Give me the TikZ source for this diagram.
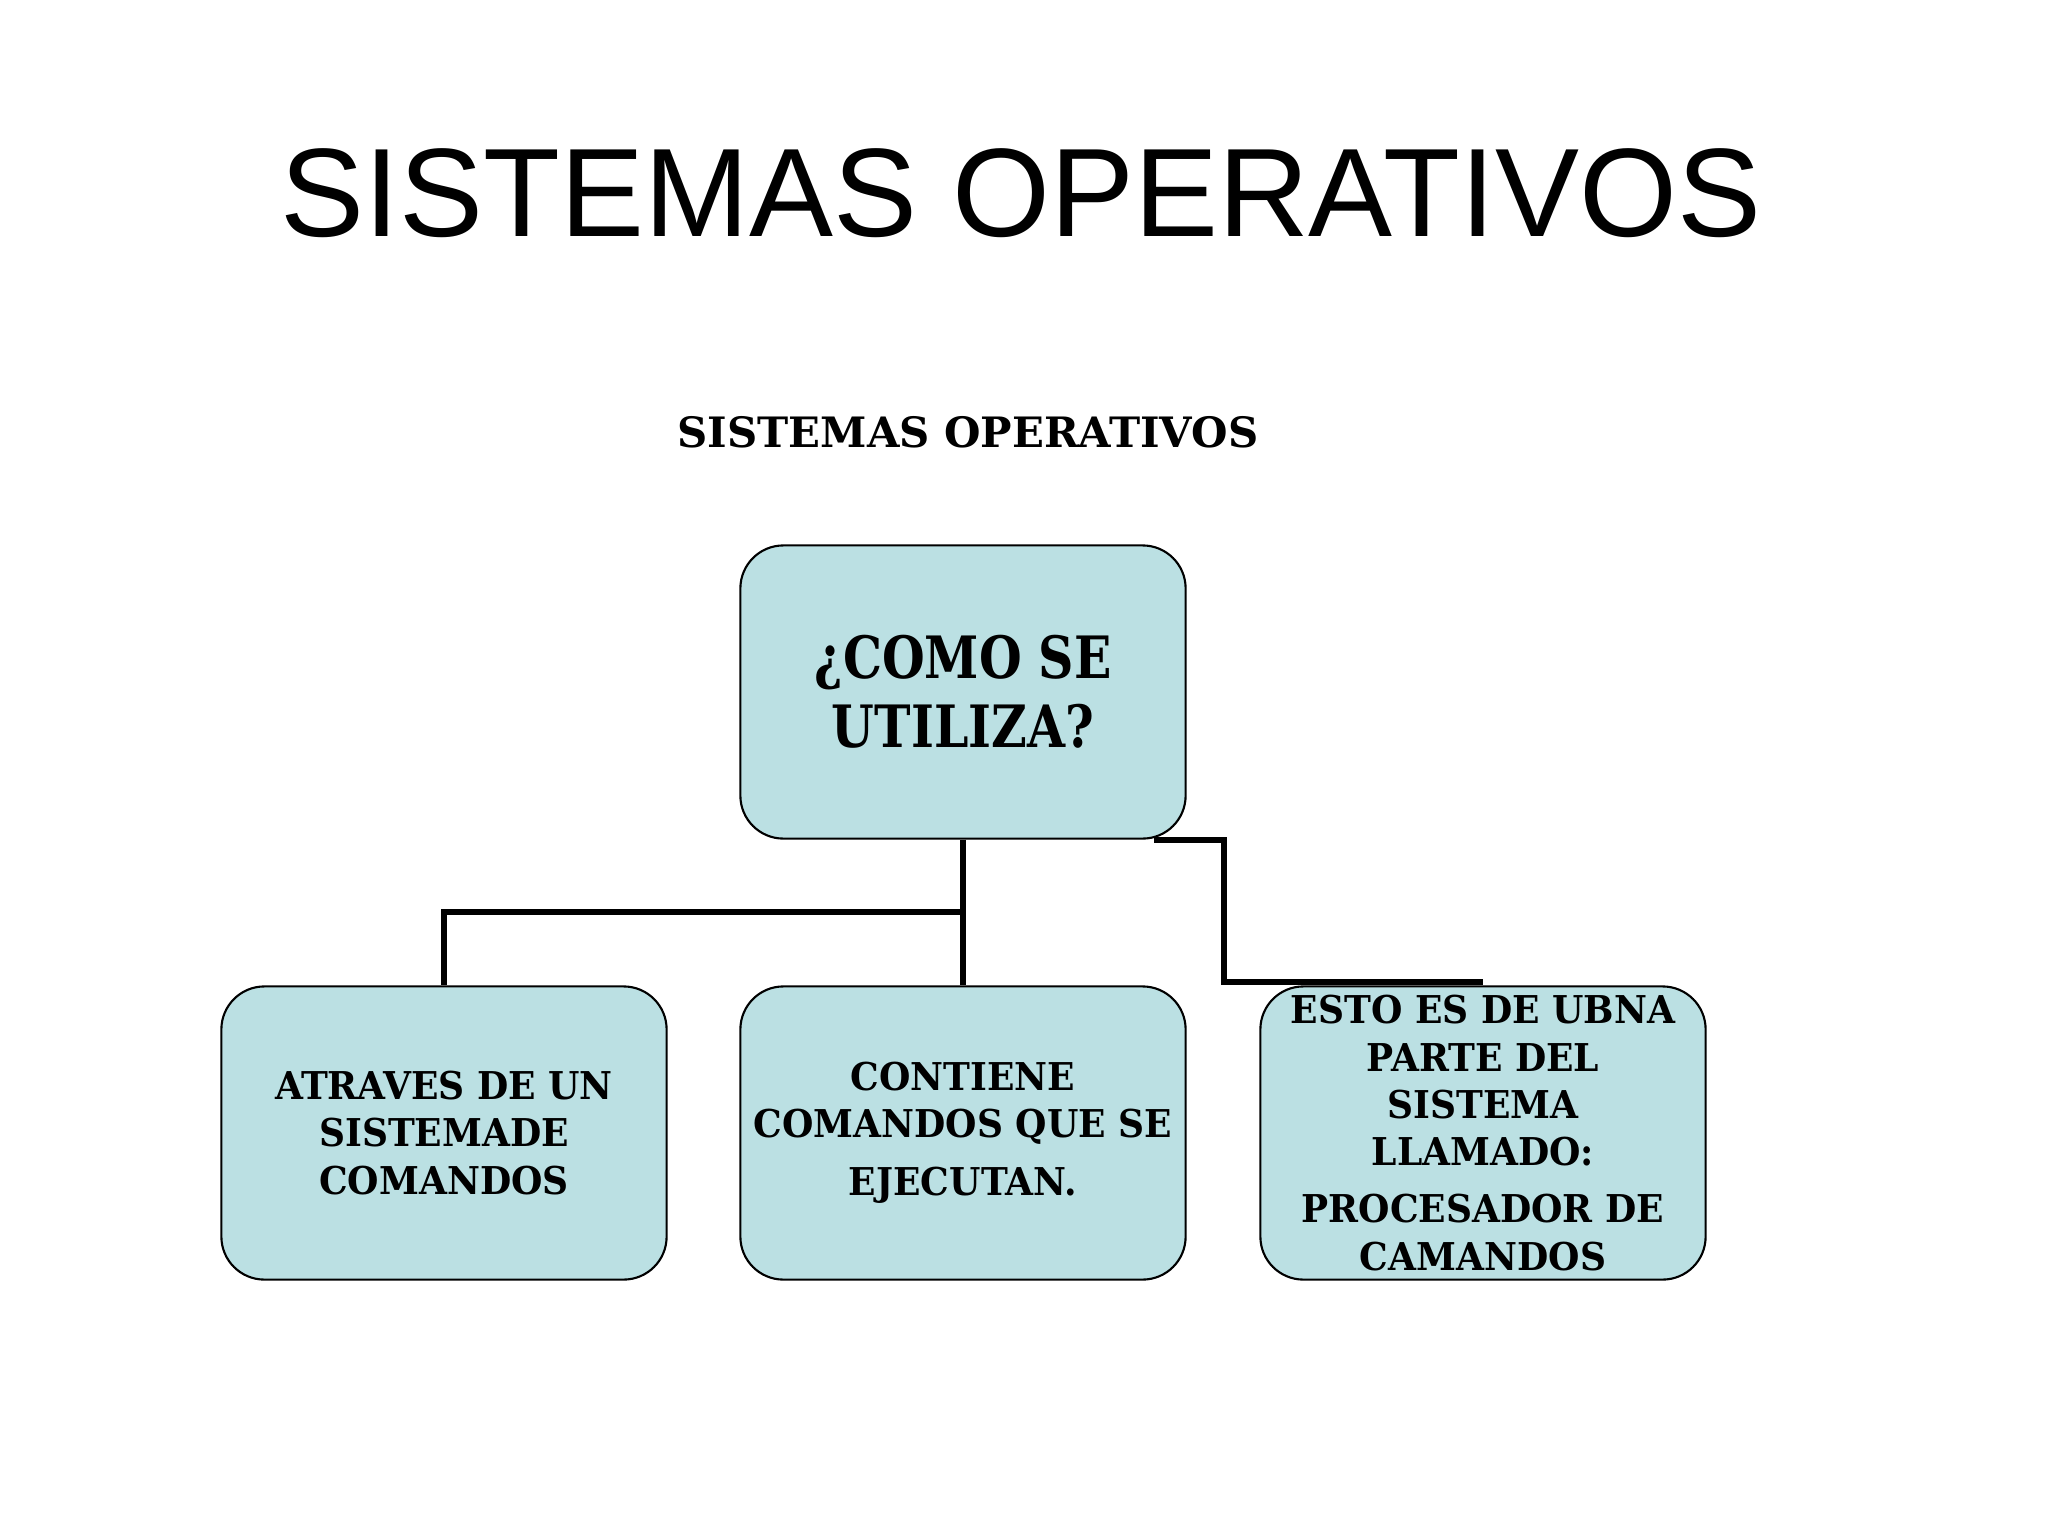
\documentclass[tikz,border=0pt]{standalone}
\usepackage{fontspec}
\setmainfont{DejaVu Serif}
\newfontfamily\titlefont{Liberation Sans}
\newfontfamily\narrowfont[FakeStretch=0.84]{DejaVu Serif}
\newfontfamily\boxfont[FakeStretch=0.94]{DejaVu Serif}
\definecolor{boxfill}{RGB}{187,224,227}

\begin{document}
\begin{tikzpicture}[
  x=0.01cm, y=-0.01cm,
  box/.style={draw, fill=boxfill, line width=0.6pt, rounded corners=0.43cm,
    minimum width=4.45cm, minimum height=2.93cm, align=center, inner sep=0pt},
  small/.style={font=\boxfont\bfseries\fontsize{10.9}{13.4}\selectfont},
  link/.style={line width=0.06cm}
]
  \useasboundingbox[fill=white] (0,0) rectangle (2048,1536);

  % Titles
  \node (title) at (1021,193) {\titlefont\fontsize{35.8}{40}\selectfont SISTEMAS OPERATIVOS};
  \node (subtitle) at (968,432) {\bfseries\fontsize{11.9}{14}\selectfont SISTEMAS OPERATIVOS};

  % Boxes
  \node[box, font=\narrowfont\bfseries\fontsize{16.6}{19.6}\selectfont] (top) at (963,692) {¿COMO SE\\UTILIZA?};
  \node[box, small] (left) at (444,1133) {ATRAVES DE UN\\SISTEMADE\\COMANDOS};
  \node[box, small] (mid) at (963,1133) {CONTIENE\\COMANDOS QUE SE\\[3pt]EJECUTAN.};
  \node[box, small] (right) at (1483,1133) {ESTO ES DE UBNA\\PARTE DEL\\SISTEMA\\LLAMADO:\\[3pt]PROCESADOR DE\\CAMANDOS};

  % Connectors
  \coordinate (split) at (964,912);
  \coordinate (bend) at (1224,982);
  \draw[link] (top.south) -- (mid.north);
  \draw[link] (split) -| (left.north);
  \draw[link] ([xshift=-0.33cm]top.south east) -| (bend) -- (bend -| right.north);
\end{tikzpicture}
\end{document}
